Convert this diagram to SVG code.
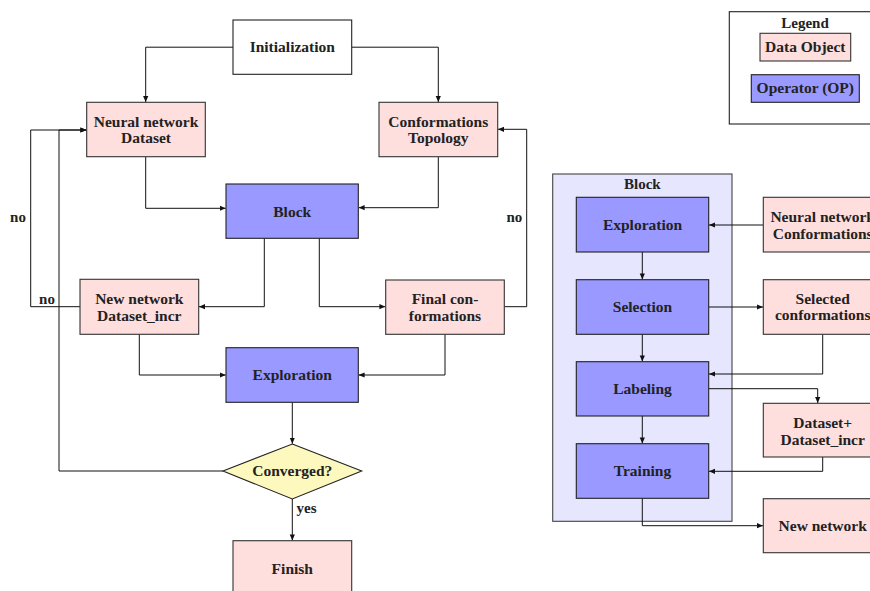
<svg xmlns="http://www.w3.org/2000/svg" width="870" height="591" viewBox="0 0 870 591">
<defs>
<marker id="ah" markerWidth="6" markerHeight="6" refX="6" refY="3" orient="auto" markerUnits="userSpaceOnUse">
<path d="M0,0.4 L6,3 L0,5.6 z" fill="#111"/>
</marker>
<style>
.data{fill:#ffdede;stroke:#333;stroke-width:1.1}
.op{fill:#9999ff;stroke:#222;stroke-width:1.1}
.plain{fill:#fff;stroke:#222;stroke-width:1.1}
.dec{fill:#fdf8bd;stroke:#222;stroke-width:1.1}
.cont{fill:#e6e6ff;stroke:#444;stroke-width:1.1}
.leg{fill:#fff;stroke:#222;stroke-width:1.1}
text{font-family:"Liberation Serif","Times New Roman",serif;font-weight:bold;fill:#222;font-size:15.5px;text-anchor:middle}
.lbl{font-size:15px}
.st{fill:none;stroke:#111;stroke-width:1}
</style>
</defs>
<rect width="870" height="591" fill="#fff"/>

<g id="legend">
<rect class="leg" x="729.3" y="11.7" width="150" height="112.3"/>
<text x="805" y="27.8" class="lbl">Legend</text>
<rect class="data" x="760" y="33.3" width="90.7" height="27.7"/>
<text x="805.3" y="52.3">Data Object</text>
<rect class="op" x="751.3" y="74.7" width="108" height="27.6"/>
<text x="805.3" y="93.3">Operator (OP)</text>
</g>

<g id="block-container">
<rect class="cont" x="552.7" y="174" width="179.3" height="347.3"/>
<text x="642.3" y="189.2" class="lbl">Block</text>
</g>

<g id="connectors">
<path class="st" d="M233,47.2 H145.7 V102" marker-end="url(#ah)"/>
<path class="st" d="M351.7,47.2 H438.3 V102" marker-end="url(#ah)"/>
<path class="st" d="M145.7,156.7 V208.3 H225.7" marker-end="url(#ah)"/>
<path class="st" d="M438.3,156.7 V207.7 H358.6" marker-end="url(#ah)"/>
<path class="st" d="M264.3,238.3 V306.7 H199" marker-end="url(#ah)"/>
<path class="st" d="M319.3,238.3 V306.7 H385.4" marker-end="url(#ah)"/>
<path class="st" d="M139.3,334.3 V375 H225.7" marker-end="url(#ah)"/>
<path class="st" d="M445,334.3 V375 H358.6" marker-end="url(#ah)"/>
<path class="st" d="M292.3,402.3 V443.7" marker-end="url(#ah)"/>
<path class="st" d="M292.3,499 V540.4" marker-end="url(#ah)"/>
<path class="st" d="M80,306.7 H30.7 V130 H86.4" marker-end="url(#ah)"/>
<path class="st" d="M223,471 H59 V130 H86.4" marker-end="url(#ah)"/>
<path class="st" d="M504.3,306.7 H526.7 V129.3 H498" marker-end="url(#ah)"/>
<text x="18" y="222" class="lbl">no</text>
<text x="47" y="304" class="lbl">no</text>
<text x="514.3" y="222" class="lbl">no</text>
<text x="306.5" y="512.5" class="lbl">yes</text>

<path class="st" d="M763.3,225 H709" marker-end="url(#ah)"/>
<path class="st" d="M642.3,252 V279.4" marker-end="url(#ah)"/>
<path class="st" d="M708.7,307 H763" marker-end="url(#ah)"/>
<path class="st" d="M642.3,334.3 V361.4" marker-end="url(#ah)"/>
<path class="st" d="M822.7,334.3 V374 H709" marker-end="url(#ah)"/>
<path class="st" d="M708.7,388.7 H817.7 V403" marker-end="url(#ah)"/>
<path class="st" d="M642.3,416 V443.4" marker-end="url(#ah)"/>
<path class="st" d="M822.7,457 V471.3 H709" marker-end="url(#ah)"/>
<path class="st" d="M642.3,498.3 V525.7 H763" marker-end="url(#ah)"/>
</g>

<g id="initialization">
<rect class="plain" x="233" y="20" width="118.7" height="54.3"/>
<text x="292.3" y="52.4">Initialization</text>
</g>
<g id="nn-dataset">
<rect class="data" x="86.7" y="102.3" width="118.6" height="54.4"/>
<text x="146" y="127">Neural network</text>
<text x="146" y="143">Dataset</text>
</g>
<g id="conf-topology">
<rect class="data" x="379" y="102.3" width="118.7" height="54.4"/>
<text x="438.3" y="127">Conformations</text>
<text x="438.3" y="143">Topology</text>
</g>
<g id="block">
<rect class="op" x="226" y="184" width="132.3" height="54.3"/>
<text x="292.2" y="216.5">Block</text>
</g>
<g id="new-network-dataset">
<rect class="data" x="80" y="279.3" width="118.7" height="55"/>
<text x="139.3" y="303.8">New network</text>
<text x="139.3" y="320.8">Dataset_incr</text>
</g>
<g id="final-conf">
<rect class="data" x="385.7" y="280" width="118.6" height="54.3"/>
<text x="445" y="303.8">Final con-</text>
<text x="445" y="320.8">formations</text>
</g>
<g id="exploration">
<rect class="op" x="226" y="347.7" width="132.3" height="54.6"/>
<text x="292.2" y="380.3">Exploration</text>
</g>
<g id="converged">
<polygon class="dec" points="292.3,444 361.7,471 292.3,499 223,471"/>
<text x="292.3" y="476.3">Converged?</text>
</g>
<g id="finish">
<rect class="data" x="233" y="540.7" width="118.7" height="60"/>
<text x="292.3" y="573.6">Finish</text>
</g>

<g id="r-exploration">
<rect class="op" x="576.3" y="197.3" width="132.4" height="54.7"/>
<text x="642.5" y="229.9">Exploration</text>
</g>
<g id="r-selection">
<rect class="op" x="576.3" y="279.7" width="132.4" height="54.6"/>
<text x="642.5" y="312.3">Selection</text>
</g>
<g id="r-labeling">
<rect class="op" x="576.3" y="361.7" width="132.4" height="54.3"/>
<text x="642.5" y="394.1">Labeling</text>
</g>
<g id="r-training">
<rect class="op" x="576.3" y="443.7" width="132.4" height="54.6"/>
<text x="642.5" y="476.1">Training</text>
</g>
<g id="r-nn-conf">
<rect class="data" x="763.3" y="197.3" width="118.7" height="54.7"/>
<text x="822.7" y="222">Neural network</text>
<text x="822.7" y="238.6">Conformations</text>
</g>
<g id="r-selected-conf">
<rect class="data" x="763.3" y="279.7" width="118.7" height="54.6"/>
<text x="822.7" y="303.8">Selected</text>
<text x="822.7" y="320.3">conformations</text>
</g>
<g id="r-dataset">
<rect class="data" x="763.3" y="403.3" width="118.7" height="53.7"/>
<text x="822.7" y="427.8">Dataset+</text>
<text x="822.7" y="444.8">Dataset_incr</text>
</g>
<g id="r-new-network">
<rect class="data" x="763.3" y="498.7" width="118.7" height="54"/>
<text x="822.7" y="531.3">New network</text>
</g>
</svg>
